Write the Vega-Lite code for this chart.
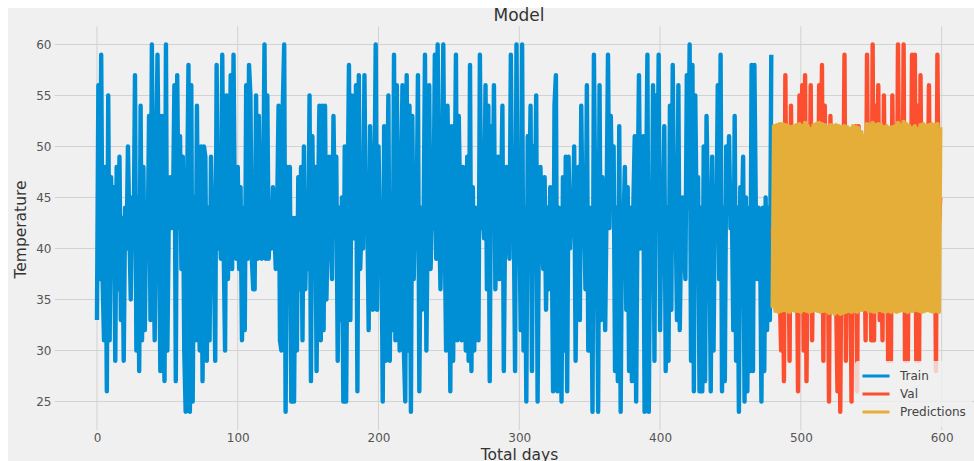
{"$schema":"https://vega.github.io/schema/vega-lite/v6.json","width":966,"height":453,"autosize":"none","padding":{"left":8,"top":8,"right":0,"bottom":0},"background":"white","view":{"fill":"#f0f0f0","stroke":null},"title":{"text":"Model","font":"DejaVu Sans","fontSize":17,"fontWeight":"normal","color":"#333333","anchor":"middle","dx":28,"offset":-17},"config":{"font":"DejaVu Sans"},"layer":[{"data":{"values":[{"v":25},{"v":30},{"v":35},{"v":40},{"v":45},{"v":50},{"v":55},{"v":60}]},"mark":{"type":"rule","stroke":"#d2d2d2","strokeWidth":1},"encoding":{"x":{"datum":-30,"type":"quantitative","scale":{"domain":[-63.2,623],"nice":false,"zero":false},"axis":{"values":[0,100,200,300,400,500,600],"grid":false,"ticks":false,"domain":false,"offset":-31,"labelPadding":2,"labelFontSize":12,"labelColor":"#555555","title":"Total days","titleFontSize":15.5,"titleFontWeight":"normal","titleColor":"#333333","titleX":511,"titleY":29,"titleBaseline":"alphabetic"}},"x2":{"datum":623},"y":{"field":"v","type":"quantitative","scale":{"domain":[19.17,63.58],"nice":false,"zero":false},"axis":{"values":[25,30,35,40,45,50,55,60],"grid":false,"ticks":false,"domain":false,"offset":-47,"labelPadding":4,"labelFontSize":12,"labelColor":"#555555","title":"Temperature","titleFontSize":15.5,"titleFontWeight":"normal","titleColor":"#333333","titleX":-27,"titleY":221}}}},{"data":{"values":[{"d":0},{"d":100},{"d":200},{"d":300},{"d":400},{"d":500},{"d":600}]},"mark":{"type":"rule","stroke":"#d2d2d2","strokeWidth":1},"encoding":{"y":{"datum":22.2,"type":"quantitative"},"y2":{"datum":61.8},"x":{"field":"d","type":"quantitative"}}},{"data":{"values":[{"d":0,"v":33},{"d":1,"v":56},{"d":2,"v":37},{"d":3,"v":59},{"d":4,"v":37},{"d":5,"v":31},{"d":6,"v":48},{"d":7,"v":26},{"d":8,"v":55},{"d":9,"v":31},{"d":10,"v":47},{"d":11,"v":40},{"d":12,"v":46},{"d":13,"v":29},{"d":14,"v":48},{"d":15,"v":36},{"d":16,"v":49},{"d":17,"v":33},{"d":18,"v":43},{"d":19,"v":29},{"d":20,"v":44},{"d":21,"v":40},{"d":22,"v":50},{"d":23,"v":42},{"d":24,"v":35},{"d":25,"v":45},{"d":26,"v":40},{"d":27,"v":57},{"d":28,"v":30},{"d":29,"v":45},{"d":30,"v":28},{"d":31,"v":54},{"d":32,"v":31},{"d":33,"v":48},{"d":34,"v":32},{"d":35,"v":44},{"d":36,"v":40},{"d":37,"v":53},{"d":38,"v":33},{"d":39,"v":60},{"d":40,"v":41},{"d":41,"v":31},{"d":42,"v":48},{"d":43,"v":59},{"d":44,"v":44},{"d":45,"v":28},{"d":46,"v":53},{"d":47,"v":32},{"d":48,"v":27},{"d":49,"v":60},{"d":50,"v":30},{"d":51,"v":43},{"d":52,"v":47},{"d":53,"v":42},{"d":54,"v":44},{"d":55,"v":56},{"d":56,"v":27},{"d":57,"v":57},{"d":58,"v":42},{"d":59,"v":51},{"d":60,"v":38},{"d":61,"v":49},{"d":62,"v":30},{"d":63,"v":24},{"d":64,"v":45},{"d":65,"v":58},{"d":66,"v":24},{"d":67,"v":56},{"d":68,"v":25},{"d":69,"v":45},{"d":70,"v":31},{"d":71,"v":54},{"d":72,"v":35},{"d":73,"v":30},{"d":74,"v":50},{"d":75,"v":27},{"d":76,"v":50},{"d":77,"v":49},{"d":78,"v":29},{"d":79,"v":44},{"d":80,"v":31},{"d":81,"v":49},{"d":82,"v":42},{"d":83,"v":40},{"d":84,"v":29},{"d":85,"v":58},{"d":86,"v":40},{"d":87,"v":44},{"d":88,"v":39},{"d":89,"v":59},{"d":90,"v":40},{"d":91,"v":30},{"d":92,"v":55},{"d":93,"v":37},{"d":94,"v":44},{"d":95,"v":57},{"d":96,"v":38},{"d":97,"v":59},{"d":98,"v":42},{"d":99,"v":39},{"d":100,"v":48},{"d":101,"v":38},{"d":102,"v":46},{"d":103,"v":31},{"d":104,"v":44},{"d":105,"v":32},{"d":106,"v":56},{"d":107,"v":39},{"d":108,"v":58},{"d":109,"v":55},{"d":110,"v":39},{"d":111,"v":36},{"d":112,"v":36},{"d":113,"v":55},{"d":114,"v":39},{"d":115,"v":53},{"d":116,"v":42},{"d":117,"v":39},{"d":118,"v":44},{"d":119,"v":60},{"d":120,"v":39},{"d":121,"v":55},{"d":122,"v":39},{"d":123,"v":44},{"d":124,"v":40},{"d":125,"v":46},{"d":126,"v":42},{"d":127,"v":38},{"d":128,"v":44},{"d":129,"v":54},{"d":130,"v":31},{"d":131,"v":30},{"d":132,"v":54},{"d":133,"v":60},{"d":134,"v":24},{"d":135,"v":48},{"d":136,"v":40},{"d":137,"v":48},{"d":138,"v":25},{"d":139,"v":43},{"d":140,"v":25},{"d":141,"v":43},{"d":142,"v":30},{"d":143,"v":47},{"d":144,"v":36},{"d":145,"v":48},{"d":146,"v":31},{"d":147,"v":50},{"d":148,"v":36},{"d":149,"v":44},{"d":150,"v":38},{"d":151,"v":55},{"d":152,"v":27},{"d":153,"v":51},{"d":154,"v":40},{"d":155,"v":48},{"d":156,"v":28},{"d":157,"v":44},{"d":158,"v":54},{"d":159,"v":31},{"d":160,"v":54},{"d":161,"v":32},{"d":162,"v":54},{"d":163,"v":35},{"d":164,"v":43},{"d":165,"v":49},{"d":166,"v":42},{"d":167,"v":37},{"d":168,"v":53},{"d":169,"v":43},{"d":170,"v":49},{"d":171,"v":29},{"d":172,"v":44},{"d":173,"v":33},{"d":174,"v":45},{"d":175,"v":25},{"d":176,"v":50},{"d":177,"v":25},{"d":178,"v":44},{"d":179,"v":58},{"d":180,"v":33},{"d":181,"v":55},{"d":182,"v":41},{"d":183,"v":45},{"d":184,"v":56},{"d":185,"v":26},{"d":186,"v":57},{"d":187,"v":38},{"d":188,"v":43},{"d":189,"v":40},{"d":190,"v":57},{"d":191,"v":42},{"d":192,"v":44},{"d":193,"v":32},{"d":194,"v":52},{"d":195,"v":44},{"d":196,"v":34},{"d":197,"v":44},{"d":198,"v":60},{"d":199,"v":34},{"d":200,"v":50},{"d":201,"v":41},{"d":202,"v":44},{"d":203,"v":25},{"d":204,"v":52},{"d":205,"v":29},{"d":206,"v":42},{"d":207,"v":55},{"d":208,"v":29},{"d":209,"v":44},{"d":210,"v":32},{"d":211,"v":59},{"d":212,"v":31},{"d":213,"v":56},{"d":214,"v":42},{"d":215,"v":30},{"d":216,"v":44},{"d":217,"v":56},{"d":218,"v":30},{"d":219,"v":25},{"d":220,"v":57},{"d":221,"v":30},{"d":222,"v":54},{"d":223,"v":24},{"d":224,"v":53},{"d":225,"v":37},{"d":226,"v":44},{"d":227,"v":42},{"d":228,"v":57},{"d":229,"v":26},{"d":230,"v":44},{"d":231,"v":34},{"d":232,"v":42},{"d":233,"v":59},{"d":234,"v":30},{"d":235,"v":44},{"d":236,"v":56},{"d":237,"v":38},{"d":238,"v":44},{"d":239,"v":42},{"d":240,"v":59},{"d":241,"v":39},{"d":242,"v":60},{"d":243,"v":44},{"d":244,"v":36},{"d":245,"v":44},{"d":246,"v":60},{"d":247,"v":42},{"d":248,"v":30},{"d":249,"v":54},{"d":250,"v":44},{"d":251,"v":26},{"d":252,"v":52},{"d":253,"v":29},{"d":254,"v":44},{"d":255,"v":59},{"d":256,"v":31},{"d":257,"v":53},{"d":258,"v":44},{"d":259,"v":31},{"d":260,"v":48},{"d":261,"v":44},{"d":262,"v":30},{"d":263,"v":49},{"d":264,"v":29},{"d":265,"v":58},{"d":266,"v":28},{"d":267,"v":46},{"d":268,"v":30},{"d":269,"v":44},{"d":270,"v":42},{"d":271,"v":31},{"d":272,"v":59},{"d":273,"v":42},{"d":274,"v":44},{"d":275,"v":41},{"d":276,"v":56},{"d":277,"v":36},{"d":278,"v":54},{"d":279,"v":27},{"d":280,"v":52},{"d":281,"v":42},{"d":282,"v":56},{"d":283,"v":36},{"d":284,"v":44},{"d":285,"v":49},{"d":286,"v":37},{"d":287,"v":44},{"d":288,"v":54},{"d":289,"v":28},{"d":290,"v":44},{"d":291,"v":48},{"d":292,"v":42},{"d":293,"v":39},{"d":294,"v":59},{"d":295,"v":42},{"d":296,"v":44},{"d":297,"v":28},{"d":298,"v":60},{"d":299,"v":40},{"d":300,"v":44},{"d":301,"v":32},{"d":302,"v":60},{"d":303,"v":30},{"d":304,"v":44},{"d":305,"v":25},{"d":306,"v":51},{"d":307,"v":44},{"d":308,"v":54},{"d":309,"v":28},{"d":310,"v":50},{"d":311,"v":42},{"d":312,"v":55},{"d":313,"v":25},{"d":314,"v":44},{"d":315,"v":48},{"d":316,"v":42},{"d":317,"v":38},{"d":318,"v":47},{"d":319,"v":34},{"d":320,"v":44},{"d":321,"v":36},{"d":322,"v":46},{"d":323,"v":42},{"d":324,"v":26},{"d":325,"v":54},{"d":326,"v":57},{"d":327,"v":26},{"d":328,"v":44},{"d":329,"v":42},{"d":330,"v":25},{"d":331,"v":47},{"d":332,"v":30},{"d":333,"v":49},{"d":334,"v":26},{"d":335,"v":49},{"d":336,"v":40},{"d":337,"v":44},{"d":338,"v":42},{"d":339,"v":50},{"d":340,"v":29},{"d":341,"v":44},{"d":342,"v":48},{"d":343,"v":33},{"d":344,"v":54},{"d":345,"v":42},{"d":346,"v":44},{"d":347,"v":36},{"d":348,"v":56},{"d":349,"v":30},{"d":350,"v":44},{"d":351,"v":42},{"d":352,"v":24},{"d":353,"v":59},{"d":354,"v":44},{"d":355,"v":42},{"d":356,"v":24},{"d":357,"v":56},{"d":358,"v":33},{"d":359,"v":47},{"d":360,"v":42},{"d":361,"v":32},{"d":362,"v":44},{"d":363,"v":59},{"d":364,"v":42},{"d":365,"v":53},{"d":366,"v":44},{"d":367,"v":50},{"d":368,"v":28},{"d":369,"v":44},{"d":370,"v":27},{"d":371,"v":52},{"d":372,"v":24},{"d":373,"v":44},{"d":374,"v":42},{"d":375,"v":48},{"d":376,"v":34},{"d":377,"v":46},{"d":378,"v":28},{"d":379,"v":44},{"d":380,"v":27},{"d":381,"v":44},{"d":382,"v":51},{"d":383,"v":25},{"d":384,"v":44},{"d":385,"v":57},{"d":386,"v":40},{"d":387,"v":44},{"d":388,"v":51},{"d":389,"v":24},{"d":390,"v":44},{"d":391,"v":59},{"d":392,"v":24},{"d":393,"v":44},{"d":394,"v":37},{"d":395,"v":56},{"d":396,"v":29},{"d":397,"v":55},{"d":398,"v":42},{"d":399,"v":59},{"d":400,"v":32},{"d":401,"v":44},{"d":402,"v":42},{"d":403,"v":52},{"d":404,"v":28},{"d":405,"v":44},{"d":406,"v":29},{"d":407,"v":54},{"d":408,"v":34},{"d":409,"v":58},{"d":410,"v":42},{"d":411,"v":44},{"d":412,"v":33},{"d":413,"v":56},{"d":414,"v":32},{"d":415,"v":42},{"d":416,"v":45},{"d":417,"v":40},{"d":418,"v":37},{"d":419,"v":57},{"d":420,"v":44},{"d":421,"v":60},{"d":422,"v":29},{"d":423,"v":58},{"d":424,"v":26},{"d":425,"v":55},{"d":426,"v":42},{"d":427,"v":47},{"d":428,"v":26},{"d":429,"v":44},{"d":430,"v":26},{"d":431,"v":50},{"d":432,"v":27},{"d":433,"v":53},{"d":434,"v":44},{"d":435,"v":42},{"d":436,"v":26},{"d":437,"v":49},{"d":438,"v":30},{"d":439,"v":46},{"d":440,"v":42},{"d":441,"v":56},{"d":442,"v":37},{"d":443,"v":59},{"d":444,"v":26},{"d":445,"v":44},{"d":446,"v":27},{"d":447,"v":50},{"d":448,"v":44},{"d":449,"v":51},{"d":450,"v":42},{"d":451,"v":44},{"d":452,"v":32},{"d":453,"v":53},{"d":454,"v":29},{"d":455,"v":44},{"d":456,"v":24},{"d":457,"v":46},{"d":458,"v":42},{"d":459,"v":49},{"d":460,"v":25},{"d":461,"v":45},{"d":462,"v":26},{"d":463,"v":44},{"d":464,"v":28},{"d":465,"v":58},{"d":466,"v":28},{"d":467,"v":58},{"d":468,"v":44},{"d":469,"v":37},{"d":470,"v":44},{"d":471,"v":42},{"d":472,"v":25},{"d":473,"v":44},{"d":474,"v":28},{"d":475,"v":45},{"d":476,"v":32},{"d":477,"v":44},{"d":478,"v":33},{"d":479,"v":59}]},"mark":{"type":"line","strokeWidth":4.4,"strokeJoin":"round"},"encoding":{"x":{"field":"d","type":"quantitative"},"y":{"field":"v","type":"quantitative"},"color":{"datum":"Train","scale":{"domain":["Train","Val","Predictions"],"range":["#008fd5","#fc4f30","#e5ae38"]},"legend":{"orient":"none","legendX":847,"legendY":353,"title":null,"fillColor":"rgba(240,240,240,0.8)","padding":6,"cornerRadius":3,"symbolType":"stroke","symbolSize":729,"symbolStrokeWidth":3,"labelFontSize":12,"labelColor":"#444444","labelOffset":9,"rowPadding":0,"clipHeight":18}}}},{"data":{"values":[{"d":480,"v":42},{"d":481,"v":38},{"d":482,"v":45},{"d":483,"v":40},{"d":484,"v":44},{"d":485,"v":36},{"d":486,"v":30},{"d":487,"v":44},{"d":488,"v":27},{"d":489,"v":57},{"d":490,"v":36},{"d":491,"v":44},{"d":492,"v":29},{"d":493,"v":54},{"d":494,"v":40},{"d":495,"v":46},{"d":496,"v":36},{"d":497,"v":44},{"d":498,"v":26},{"d":499,"v":55},{"d":500,"v":38},{"d":501,"v":56},{"d":502,"v":30},{"d":503,"v":57},{"d":504,"v":27},{"d":505,"v":44},{"d":506,"v":38},{"d":507,"v":56},{"d":508,"v":31},{"d":509,"v":45},{"d":510,"v":40},{"d":511,"v":44},{"d":512,"v":35},{"d":513,"v":56},{"d":514,"v":42},{"d":515,"v":58},{"d":516,"v":29},{"d":517,"v":54},{"d":518,"v":40},{"d":519,"v":44},{"d":520,"v":25},{"d":521,"v":53},{"d":522,"v":42},{"d":523,"v":34},{"d":524,"v":44},{"d":525,"v":36},{"d":526,"v":26},{"d":527,"v":45},{"d":528,"v":24},{"d":529,"v":44},{"d":530,"v":42},{"d":531,"v":59},{"d":532,"v":29},{"d":533,"v":44},{"d":534,"v":40},{"d":535,"v":42},{"d":536,"v":25},{"d":537,"v":46},{"d":538,"v":44},{"d":539,"v":52},{"d":540,"v":26},{"d":541,"v":52},{"d":542,"v":44},{"d":543,"v":36},{"d":544,"v":42},{"d":545,"v":44},{"d":546,"v":31},{"d":547,"v":59},{"d":548,"v":40},{"d":549,"v":44},{"d":550,"v":31},{"d":551,"v":60},{"d":552,"v":31},{"d":553,"v":54},{"d":554,"v":44},{"d":555,"v":56},{"d":556,"v":33},{"d":557,"v":42},{"d":558,"v":31},{"d":559,"v":55},{"d":560,"v":40},{"d":561,"v":44},{"d":562,"v":29},{"d":563,"v":44},{"d":564,"v":29},{"d":565,"v":55},{"d":566,"v":40},{"d":567,"v":44},{"d":568,"v":36},{"d":569,"v":60},{"d":570,"v":42},{"d":571,"v":46},{"d":572,"v":38},{"d":573,"v":60},{"d":574,"v":29},{"d":575,"v":44},{"d":576,"v":29},{"d":577,"v":50},{"d":578,"v":40},{"d":579,"v":59},{"d":580,"v":36},{"d":581,"v":59},{"d":582,"v":29},{"d":583,"v":54},{"d":584,"v":29},{"d":585,"v":57},{"d":586,"v":40},{"d":587,"v":44},{"d":588,"v":38},{"d":589,"v":46},{"d":590,"v":42},{"d":591,"v":56},{"d":592,"v":38},{"d":593,"v":44},{"d":594,"v":40},{"d":595,"v":46},{"d":596,"v":28},{"d":597,"v":59},{"d":598,"v":42},{"d":599,"v":45}]},"mark":{"type":"line","strokeWidth":4.4,"strokeJoin":"round"},"encoding":{"x":{"field":"d","type":"quantitative"},"y":{"field":"v","type":"quantitative"},"color":{"datum":"Val"}}},{"data":{"values":[{"d":480,"v":34.2},{"d":481,"v":52},{"d":482,"v":33.9},{"d":483,"v":52.1},{"d":484,"v":33.8},{"d":485,"v":52.2},{"d":486,"v":33.9},{"d":487,"v":52.2},{"d":488,"v":34},{"d":489,"v":52.1},{"d":490,"v":33.9},{"d":491,"v":52},{"d":492,"v":33.8},{"d":493,"v":51.9},{"d":494,"v":34},{"d":495,"v":52},{"d":496,"v":33.9},{"d":497,"v":52.1},{"d":498,"v":33.9},{"d":499,"v":52.2},{"d":500,"v":33.8},{"d":501,"v":52},{"d":502,"v":34},{"d":503,"v":52.3},{"d":504,"v":33.9},{"d":505,"v":52},{"d":506,"v":33.8},{"d":507,"v":51.7},{"d":508,"v":33.9},{"d":509,"v":52.1},{"d":510,"v":34},{"d":511,"v":52.2},{"d":512,"v":33.9},{"d":513,"v":52.3},{"d":514,"v":33.8},{"d":515,"v":52.2},{"d":516,"v":33.9},{"d":517,"v":52.1},{"d":518,"v":33.9},{"d":519,"v":51.9},{"d":520,"v":33.7},{"d":521,"v":52.1},{"d":522,"v":33.8},{"d":523,"v":52},{"d":524,"v":33.6},{"d":525,"v":52.1},{"d":526,"v":33.8},{"d":527,"v":52},{"d":528,"v":33.6},{"d":529,"v":51.9},{"d":530,"v":33.7},{"d":531,"v":52},{"d":532,"v":33.8},{"d":533,"v":51.9},{"d":534,"v":33.9},{"d":535,"v":51.7},{"d":536,"v":33.8},{"d":537,"v":52},{"d":538,"v":33.9},{"d":539,"v":51.9},{"d":540,"v":33.8},{"d":541,"v":51.8},{"d":542,"v":34},{"d":543,"v":51.4},{"d":544,"v":34},{"d":545,"v":51},{"d":546,"v":34.1},{"d":547,"v":52.2},{"d":548,"v":33.9},{"d":549,"v":52.1},{"d":550,"v":33.9},{"d":551,"v":52.3},{"d":552,"v":33.8},{"d":553,"v":52.1},{"d":554,"v":33.9},{"d":555,"v":52.2},{"d":556,"v":34},{"d":557,"v":52.1},{"d":558,"v":33.9},{"d":559,"v":51.9},{"d":560,"v":33.8},{"d":561,"v":52},{"d":562,"v":33.9},{"d":563,"v":51.8},{"d":564,"v":33.8},{"d":565,"v":51.9},{"d":566,"v":33.9},{"d":567,"v":52},{"d":568,"v":33.8},{"d":569,"v":52.3},{"d":570,"v":33.9},{"d":571,"v":52.1},{"d":572,"v":34},{"d":573,"v":52.4},{"d":574,"v":33.9},{"d":575,"v":52.2},{"d":576,"v":33.8},{"d":577,"v":52},{"d":578,"v":33.9},{"d":579,"v":51.8},{"d":580,"v":33.9},{"d":581,"v":52},{"d":582,"v":34},{"d":583,"v":51.7},{"d":584,"v":33.9},{"d":585,"v":52.1},{"d":586,"v":33.8},{"d":587,"v":52.2},{"d":588,"v":33.9},{"d":589,"v":52},{"d":590,"v":34},{"d":591,"v":52.1},{"d":592,"v":33.9},{"d":593,"v":52.2},{"d":594,"v":33.8},{"d":595,"v":52.1},{"d":596,"v":33.9},{"d":597,"v":52.2},{"d":598,"v":33.8},{"d":599,"v":51.9}]},"mark":{"type":"line","strokeWidth":4.4,"strokeJoin":"round"},"encoding":{"x":{"field":"d","type":"quantitative"},"y":{"field":"v","type":"quantitative"},"color":{"datum":"Predictions"}}}]}
